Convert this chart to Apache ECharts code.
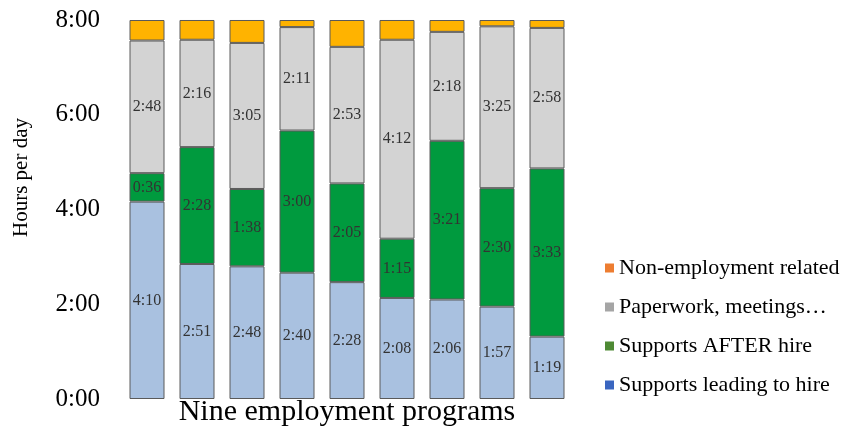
<!DOCTYPE html>
<html>
<head>
<meta charset="utf-8">
<script src="https://cdn.jsdelivr.net/npm/echarts@6/dist/echarts.min.js"></script>
<style>
  html, body { margin: 0; padding: 0; background: #fff; }
  #main { width: 842px; height: 431px; }
</style>
</head>
<body>
<div id="main"></div>
<script>
// minutes per day, nine programs
const programs = ["P1", "P2", "P3", "P4", "P5", "P6", "P7", "P8", "P9"];
const leadingToHire = [250, 171, 168, 160, 148, 128, 126, 117, 79];
const afterHire = [36, 148, 98, 180, 125, 75, 201, 150, 213];
const paperwork = [168, 136, 185, 131, 173, 252, 138, 205, 178];
const nonEmployment = [26, 25, 29, 9, 34, 25, 15, 8, 10];
const yTicks = [0, 120, 240, 360, 480];

const fmt = (m) => Math.floor(m / 60) + ":" + String(m % 60).padStart(2, "0");

const chartDom = document.getElementById("main");
const myChart = echarts.init(chartDom);

const serif = "'Liberation Serif', 'Times New Roman', serif";
const border = { borderColor: "#5a5a5a", borderWidth: 1 };
const lbl = {
  show: true,
  position: "inside",
  formatter: (p) => fmt(p.value),
  fontFamily: serif,
  fontSize: 16,
  color: "#333"
};

const option = {
  animation: false,
  grid: { left: 122, right: 270, top: 20, bottom: 32, outerBoundsMode: "none", containLabel: false },
  legend: {
    orient: "vertical",
    left: 600,
    top: 252,
    itemWidth: 9,
    itemHeight: 9,
    itemGap: 17,
    icon: "rect",
    textStyle: { fontFamily: serif, fontSize: 22, color: "#000" },
    data: [
      { name: "Non-employment related", itemStyle: { color: "#ED7D31", borderWidth: 0 } },
      { name: "Paperwork, meetings…", itemStyle: { color: "#A5A5A5", borderWidth: 0 } },
      { name: "Supports AFTER hire", itemStyle: { color: "#4E8A34", borderWidth: 0 } },
      { name: "Supports leading to hire", itemStyle: { color: "#3A66C0", borderWidth: 0 } }
    ]
  },
  xAxis: {
    type: "category",
    data: programs,
    name: "Nine employment programs",
    nameLocation: "middle",
    nameGap: -2,
    nameTextStyle: { fontFamily: serif, fontSize: 30, color: "#000" },
    axisLine: { show: false },
    axisTick: { show: false },
    axisLabel: { show: false }
  },
  yAxis: {
    type: "value",
    min: yTicks[0],
    max: yTicks[yTicks.length - 1],
    interval: 120,
    name: "Hours per day",
    nameLocation: "middle",
    nameGap: 90,
    nameTextStyle: { fontFamily: serif, fontSize: 21, color: "#000", padding: [0, 0, 0, 64] },
    splitLine: { show: false },
    axisLine: { show: false },
    axisTick: { show: false },
    axisLabel: {
      formatter: (v) => fmt(v),
      margin: 22,
      fontFamily: serif,
      fontSize: 25,
      color: "#000"
    }
  },
  series: [
    {
      name: "Supports leading to hire",
      type: "bar",
      stack: "t",
      barWidth: "70%",
      data: leadingToHire,
      itemStyle: Object.assign({ color: "#A9C1E0" }, border),
      label: lbl
    },
    {
      name: "Supports AFTER hire",
      type: "bar",
      stack: "t",
      data: afterHire,
      itemStyle: Object.assign({ color: "#009A3E" }, border),
      label: lbl
    },
    {
      name: "Paperwork, meetings…",
      type: "bar",
      stack: "t",
      data: paperwork,
      itemStyle: Object.assign({ color: "#D3D3D3" }, border),
      label: lbl
    },
    {
      name: "Non-employment related",
      type: "bar",
      stack: "t",
      data: nonEmployment,
      itemStyle: Object.assign({ color: "#FFB300" }, border),
      label: { show: false }
    }
  ]
};

option && myChart.setOption(option);
</script>
</body>
</html>
